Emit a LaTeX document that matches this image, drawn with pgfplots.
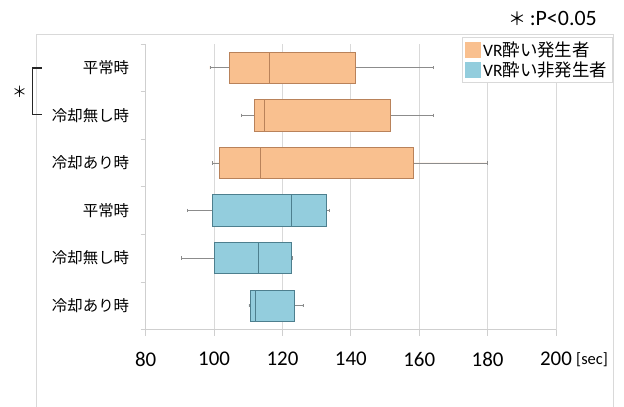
\documentclass[border=0pt]{standalone}
\usepackage{fontspec}
\setmainfont{Carlito}
\newfontfamily\jp{Noto Sans CJK JP}
\usepackage{pgfplots}
\pgfplotsset{compat=1.18}
\usepgfplotslibrary{statistics}

\definecolor{orfill}{HTML}{F9C08F}
\definecolor{oredge}{HTML}{B9825A}
\definecolor{blfill}{HTML}{93CDDD}
\definecolor{bledge}{HTML}{4D7F8E}
\definecolor{whisk}{HTML}{8C8C8C}
\definecolor{gridc}{HTML}{D9D9D9}
\definecolor{axisc}{HTML}{CFCFCF}

\begin{document}
\begin{tikzpicture}
\useasboundingbox (0,0) rectangle (624bp,-407bp);
% chart frame
\draw[gridc, line width=0.8bp] (36bp,-407bp) -- (36bp,-34bp) -- (613bp,-34bp) -- (613bp,-407bp);

\begin{axis}[
  at={(145.7bp,-329.5bp)}, anchor=south west,
  scale only axis, width=410.3bp, height=285.5bp,
  xmin=80, xmax=200, ymin=0.5, ymax=6.5, y dir=reverse,
  axis x line=bottom, axis y line=left,
  x axis line style={-, draw=axisc, line width=0.8bp},
  y axis line style={-, draw=axisc, line width=0.8bp},
  xtick={80,100,...,200},
  xmajorgrids, major grid style={gridc, line width=0.8bp},
  tick align=outside, major tick length=6bp, minor tick length=5bp,
  x tick style={draw=axisc, line width=0.8bp},
  major y tick style={draw=none},
  minor y tick style={draw=axisc, line width=0.8bp},
  ytick={1,...,6},
  minor ytick={0.5,1.5,...,6.5},
  yticklabels={平常時,冷却無し時,冷却あり時,平常時,冷却無し時,冷却あり時},
  yticklabel style={font=\jp\fontsize{15.5}{18}\selectfont, anchor=east, xshift=-7bp},
  xticklabel style={font=\fontsize{21}{24}\selectfont, yshift=-13bp},
  /pgf/number format/assume math mode=true,
  boxplot/draw direction=x,
  boxplot/box extend=0.66,
  boxplot/whisker extend=0.07,
  legend style={at={(0.771,1.0245)}, anchor=north west, draw=gridc, line width=0.8bp,
    fill=white, font=\fontsize{17.5}{20}\selectfont, inner xsep=3bp, inner ysep=2.5bp,
    row sep=0bp, /tikz/every even column/.append style={column sep=2bp}},
  legend cell align=left,
]
% sickness group (orange)
\addplot[forget plot, fill=orfill, draw=oredge, line width=0.7bp,
  boxplot/every whisker/.style={draw=whisk, line width=0.7bp},
  boxplot prepared={draw position=1, lower whisker=98.8, lower quartile=104.4,
    median=116.3, upper quartile=141.2, upper whisker=164.1}] coordinates {};
\addplot[forget plot, fill=orfill, draw=oredge, line width=0.7bp,
  boxplot/every whisker/.style={draw=whisk, line width=0.7bp},
  boxplot prepared={draw position=2, lower whisker=108.1, lower quartile=111.9,
    median=114.8, upper quartile=151.6, upper whisker=164.1}] coordinates {};
\addplot[forget plot, fill=orfill, draw=oredge, line width=0.7bp,
  boxplot/every whisker/.style={draw=whisk, line width=0.7bp},
  boxplot prepared={draw position=3, lower whisker=99.5, lower quartile=101.5,
    median=113.4, upper quartile=158.4, upper whisker=179.9}] coordinates {};
% no-sickness group (blue)
\addplot[forget plot, fill=blfill, draw=bledge, line width=0.7bp,
  boxplot/every whisker/.style={draw=whisk, line width=0.7bp},
  boxplot prepared={draw position=4, lower whisker=92.2, lower quartile=99.4,
    median=122.6, upper quartile=132.8, upper whisker=133.7}] coordinates {};
\addplot[forget plot, fill=blfill, draw=bledge, line width=0.7bp,
  boxplot/every whisker/.style={draw=whisk, line width=0.7bp},
  boxplot prepared={draw position=5, lower whisker=90.5, lower quartile=100.0,
    median=113.0, upper quartile=122.7, upper whisker=123.0}] coordinates {};
\addplot[forget plot, fill=blfill, draw=bledge, line width=0.7bp,
  boxplot/every whisker/.style={draw=whisk, line width=0.7bp},
  boxplot prepared={draw position=6, lower whisker=110.2, lower quartile=110.5,
    median=112.2, upper quartile=123.6, upper whisker=126.0}] coordinates {};

\addlegendimage{legend image code/.code={\fill[orfill] (0bp,-7.5bp) rectangle (15bp,7.5bp);}}
\addlegendentry{VR{\jp 酔い発生者}}
\addlegendimage{legend image code/.code={\fill[blfill] (0bp,-7.5bp) rectangle (15bp,7.5bp);}}
\addlegendentry{VR{\jp 酔い非発生者}}
\end{axis}

% unit label
\node[anchor=west, inner sep=0pt, font=\fontsize{16.5}{19}\selectfont] at (576bp,-360bp) {[sec]};
% significance note
\node[anchor=west, inner sep=0pt, font=\fontsize{22}{26}\selectfont] at (508bp,-18bp) {{\jp\fontsize{18}{20}\selectfont ＊}\,:P<0.05};
% significance bracket
\draw[black!85, line width=1.3bp] (41.5bp,-68bp) -- (32.5bp,-68bp) -- (32.5bp,-114.5bp) -- (41.5bp,-114.5bp);
\node[font=\jp\fontsize{15}{18}\selectfont, inner sep=0pt] at (19.5bp,-92bp) {＊};
\end{tikzpicture}
\end{document}
